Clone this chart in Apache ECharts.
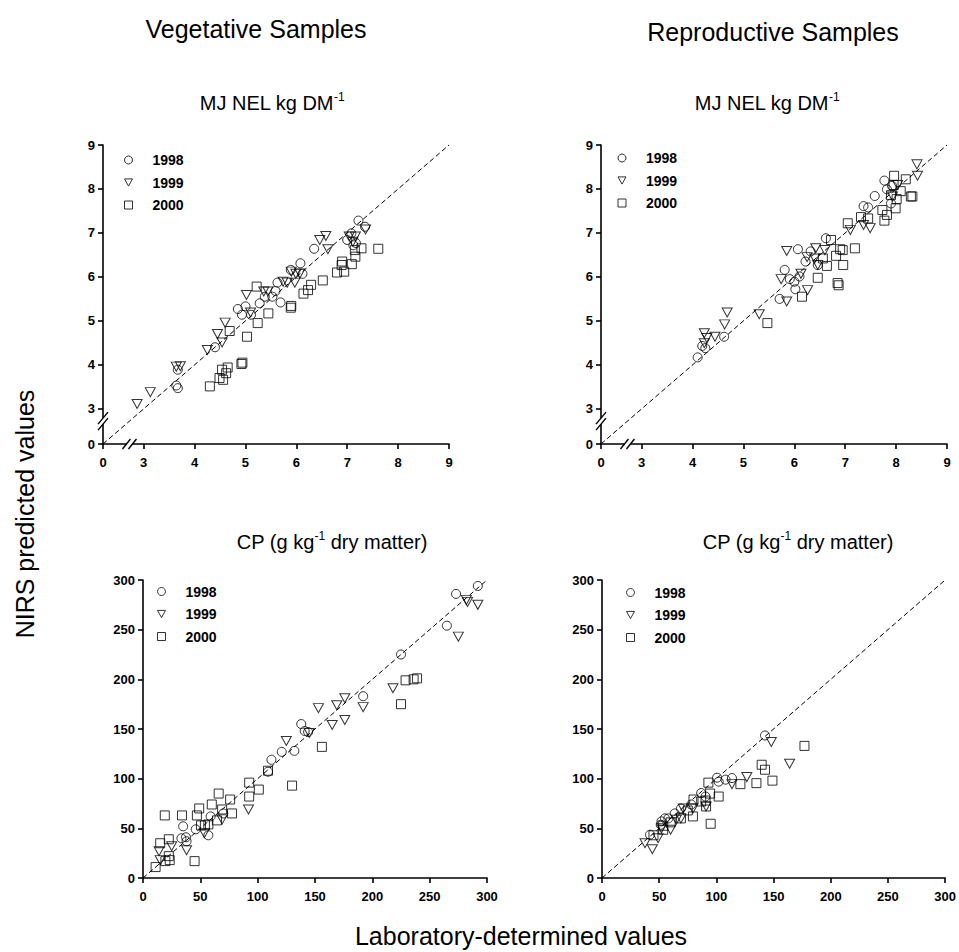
<!DOCTYPE html>
<html>
<head>
<meta charset="utf-8">
<script src="https://cdn.jsdelivr.net/npm/echarts@6/dist/echarts.min.js"></script>
<style>
  html, body { margin: 0; padding: 0; background: #fff; }
  #chart { width: 959px; height: 952px; }
</style>
</head>
<body>
<div id="chart"></div>
<script>
// ---------------- DATA ----------------
const years = ['1998', '1999', '2000'];

// NEL axes (broken axis: "0" then 3..9)
const nelAxisMin = 2.2;       // value position where the "0" label sits (after the break)
const nelAxisMax = 9;
const nelBreak = 2.72;        // where the // marks are drawn
const nelTicks = [3, 4, 5, 6, 7, 8, 9];
const cpTicks = [0, 50, 100, 150, 200, 250, 300];

// Vegetative, MJ NEL kg DM-1  [lab, NIRS]
const vegNEL1998 = [[7.22,7.28],[7.35,7.14],[7.00,6.84],[7.08,6.99],[7.17,6.77],[7.12,6.72],[6.35,6.64],[6.08,6.31],[6.12,6.07],[5.89,6.16],[5.69,5.42],[5.59,5.68],[5.53,5.55],[5.38,5.55],[5.28,5.40],[5.63,5.87],[5.00,5.33],[4.93,5.14],[4.85,5.27],[5.11,5.14],[4.40,4.40],[3.67,3.89],[3.64,3.53],[3.67,3.47]];
const vegNEL1999 = [[2.87,3.11],[3.13,3.38],[3.64,3.96],[3.72,3.97],[4.25,4.34],[4.45,4.70],[4.54,4.51],[4.60,4.96],[5.02,5.59],[5.10,5.19],[5.36,5.67],[5.44,5.67],[5.74,5.89],[5.82,5.87],[5.97,5.87],[5.99,6.07],[6.07,6.08],[5.90,6.12],[6.46,6.84],[6.58,6.93],[6.62,6.63],[7.04,6.92],[7.16,6.92],[7.36,7.08],[7.11,6.80]];
const vegNEL2000 = [[4.30,3.51],[4.49,3.70],[4.56,3.66],[4.54,3.89],[4.65,3.94],[4.62,3.81],[4.92,4.02],[4.94,4.05],[5.03,4.64],[4.69,4.77],[5.24,4.95],[5.45,5.17],[5.22,5.78],[5.89,5.30],[5.90,5.34],[6.14,5.62],[6.23,5.70],[6.29,5.82],[6.52,5.92],[6.80,6.10],[6.94,6.12],[6.90,6.35],[6.89,6.27],[7.09,6.29],[7.16,6.46],[7.15,6.61],[7.28,6.65],[7.61,6.64]];

// Reproductive, MJ NEL kg DM-1
const repNEL1998 = [[4.10,4.17],[4.19,4.43],[4.25,4.38],[4.62,4.64],[5.71,5.50],[5.81,6.16],[5.91,5.95],[6.02,5.72],[6.00,5.89],[6.10,6.01],[6.07,6.63],[6.22,6.35],[6.32,6.58],[6.46,6.27],[6.62,6.88],[7.36,7.61],[7.45,7.58],[7.58,7.84],[7.77,8.19],[7.82,7.99],[7.90,7.67],[7.92,8.07]];
const repNEL1999 = [[4.23,4.72],[4.23,4.49],[4.28,4.61],[4.44,4.64],[4.63,4.92],[4.68,5.19],[5.31,5.15],[5.74,5.95],[5.85,6.59],[5.85,5.44],[6.13,6.07],[6.26,5.70],[6.25,6.45],[6.42,6.65],[6.40,6.42],[6.46,6.27],[6.60,6.61],[7.10,7.07],[7.36,7.18],[7.49,7.11],[8.41,8.56],[8.42,8.30],[7.93,7.83],[8.03,8.09]];
const repNEL2000 = [[5.47,4.95],[6.15,5.55],[6.46,5.98],[6.64,6.25],[6.56,6.42],[6.72,6.84],[6.82,6.48],[6.85,5.86],[6.87,5.81],[6.90,6.63],[6.95,6.61],[6.96,6.27],[7.19,6.65],[7.05,7.22],[7.31,7.36],[7.45,7.33],[7.73,7.52],[7.77,7.28],[7.82,7.41],[7.96,8.30],[7.95,8.09],[7.99,7.56],[8.01,7.77],[8.09,7.95],[8.19,8.22],[8.29,7.83],[8.32,7.83],[7.90,7.86]];

// Vegetative, CP (g kg-1 dry matter)
const vegCP1998 = [[292,294],[273,286],[265,254],[225,225],[192,183],[138,155],[141,148],[144,147],[132,128],[121,127],[112,119],[109,107],[35,52],[33.5,40],[37.5,41],[38,37],[46,49],[57,43],[59,62],[70,65]];
const vegCP1999 = [[292,275],[283,278],[282,280],[275,243],[218,191],[192,172],[176,181],[169,174],[176,159],[165,154],[153,171],[125,138],[145,146],[92,69],[38,28],[25,32],[14,27],[15,18],[69,59],[53.5,45]];
const vegCP2000 = [[11,11],[15,35],[19,63],[19.5,17],[22.5,39],[22.5,22],[23.3,18],[34,63],[45,17],[47,63],[49,70],[50.6,53],[54,53],[57,54],[60,74],[64.5,58],[66,85],[69,69],[76,79],[77.6,65],[92.6,96],[92.6,82],[101,89],[109,108],[130,93],[156,132],[225,175],[229,199],[236,200],[239,201]];

// Reproductive, CP (g kg-1 dry matter)
const repCP1998 = [[142.5,143.5],[100.6,101],[102,97],[108,99],[113.6,100.6],[86.7,85.5],[90.5,82],[78,74],[69,70],[63.6,65],[58,60],[52,57],[51.4,53.6],[42,43.6],[55,60]];
const repCP1999 = [[148,137],[164,115],[126.6,101.6],[113.6,94.5],[37.6,35],[44,29],[49,40],[60,48.6],[69,60],[71,70],[79.5,70],[91,72],[52,50],[65,58.7]];
const repCP2000 = [[177,133],[139.6,114],[142.5,109],[149,98],[135,95.5],[121,94.5],[93,96],[94.5,85],[102,82],[90.5,78],[80,79],[95,54.6],[79.5,62],[75,68],[69,60],[60,56],[53.5,52.6],[45,43],[53.5,48.6],[86.7,77],[91,72]];

// ---------------- CHART ----------------
const FONT = '"Liberation Sans", Arial, Helvetica, sans-serif';
const chart = echarts.init(document.getElementById('chart'), null, { renderer: 'svg' });

const panels = [
  { grid: { left: 103, top: 145, width: 346, height: 299 }, kind: 'nel', sets: [vegNEL1998, vegNEL1999, vegNEL2000], legend: [119, 148] },
  { grid: { left: 601, top: 145, width: 346, height: 299 }, kind: 'nel', sets: [repNEL1998, repNEL1999, repNEL2000], legend: [612.5, 146] },
  { grid: { left: 143, top: 580, width: 344, height: 298 }, kind: 'cp', sets: [vegCP1998, vegCP1999, vegCP2000], legend: [152, 579.5] },
  { grid: { left: 602, top: 580, width: 344, height: 298 }, kind: 'cp', sets: [repCP1998, repCP1999, repCP2000], legend: [621, 580.5] }
];

const TRI_DOWN = 'path://M0,0L10,0L5,9Z';
const symbols = [
  { symbol: 'circle', symbolSize: 9 },
  { symbol: TRI_DOWN, symbolSize: [10, 9] },
  { symbol: 'rect', symbolSize: 9 }
];
const legendIcons = ['circle', TRI_DOWN, 'rect'];

const axisLineStyle = { color: '#000', width: 1.6 };
const labelStyle = { color: '#000', fontWeight: 'bold', fontSize: 13, fontFamily: FONT };

function makeAxis(kind, gi, dim) {
  const base = {
    type: 'value', gridIndex: gi,
    axisLine: { show: true, onZero: false, lineStyle: axisLineStyle },
    splitLine: { show: false }
  };
  const margin = dim === 'x' ? 12 : 8;
  if (kind === 'nel') {
    const vals = [nelAxisMin].concat(nelTicks);
    return Object.assign(base, {
      min: nelAxisMin, max: nelAxisMax,
      axisTick: { show: true, length: 5, customValues: vals, lineStyle: axisLineStyle },
      axisLabel: Object.assign({ customValues: vals, margin: margin,
        formatter: v => (v < 2.5 ? '0' : String(Math.round(v))) }, labelStyle)
    });
  }
  return Object.assign(base, {
    min: cpTicks[0], max: cpTicks[cpTicks.length - 1], interval: 50,
    axisTick: { show: true, length: 5, lineStyle: axisLineStyle },
    axisLabel: Object.assign({ margin: margin, showMinLabel: true, showMaxLabel: true }, labelStyle)
  });
}

const grids = [], xAxes = [], yAxes = [], series = [], legends = [];
panels.forEach((p, gi) => {
  grids.push(Object.assign({ containLabel: false }, p.grid));
  xAxes.push(makeAxis(p.kind, gi, 'x'));
  yAxes.push(makeAxis(p.kind, gi, 'y'));
  const lo = p.kind === 'nel' ? nelAxisMin : 0;
  const hi = p.kind === 'nel' ? nelAxisMax : 300;
  series.push({
    type: 'line', xAxisIndex: gi, yAxisIndex: gi, silent: true, symbol: 'none',
    data: [[lo, lo], [hi, hi]],
    lineStyle: { color: '#000', width: 1, type: [5, 3] }, z: 1
  });
  p.sets.forEach((d, k) => {
    series.push(Object.assign({
      type: 'scatter', name: years[k], xAxisIndex: gi, yAxisIndex: gi,
      data: d,
      itemStyle: { color: 'rgba(255,255,255,0)', borderColor: '#000', borderWidth: 1 },
      emphasis: { disabled: true }, z: 3
    }, symbols[k]));
  });
  legends.push({
    orient: 'vertical', left: p.legend[0], top: p.legend[1],
    itemWidth: 8, itemHeight: 8, itemGap: 8.5, selectedMode: false,
    data: years.map((y, k) => ({ name: y, icon: legendIcons[k] })),
    itemStyle: { color: 'rgba(255,255,255,0)', borderColor: '#000', borderWidth: 1 },
    textStyle: { color: '#000', fontWeight: 'bold', fontSize: 14, lineHeight: 14, fontFamily: FONT, padding: [0, 0, 0, 15] }
  });
});

function txt(x, y, text, size, rot, rich) {
  const s = { text: text, x: 0, y: 0, fill: '#000', font: size + 'px ' + FONT, align: 'center', verticalAlign: 'middle' };
  if (rich) s.rich = rich;
  return { type: 'text', x: x, y: y, rotation: rot || 0, style: s, z: 50 };
}
const supRich = {
  a: { fontSize: 20, fontFamily: FONT, lineHeight: 24, color: '#000' },
  s: { fontSize: 12, fontFamily: FONT, lineHeight: 12, verticalAlign: 'top', color: '#000' }
};

const texts = [
  txt(256, 29, 'Vegetative Samples', 25),
  txt(773, 32, 'Reproductive Samples', 25),
  txt(272, 103, '{a|MJ NEL kg DM}{s|-1}', 20, 0, supRich),
  txt(767, 103, '{a|MJ NEL kg DM}{s|-1}', 20, 0, supRich),
  txt(332, 542, '{a|CP (g kg}{s|-1}{a| dry matter)}', 20, 0, supRich),
  txt(798, 542, '{a|CP (g kg}{s|-1}{a| dry matter)}', 20, 0, supRich),
  txt(25, 514, 'NIRS predicted values', 25, Math.PI / 2),
  txt(521, 936, 'Laboratory-determined values', 25)
];

chart.setOption({
  animation: false,
  backgroundColor: '#fff',
  grid: grids, xAxis: xAxes, yAxis: yAxes, series: series, legend: legends,
  graphic: texts
});

// axis-break marks (//) on the two NEL panels
const marks = [];
[0, 1].forEach(gi => {
  const py = chart.convertToPixel({ gridIndex: gi }, [nelAxisMin, nelBreak]);
  const px = chart.convertToPixel({ gridIndex: gi }, [nelBreak, nelAxisMin]);
  const ls = { stroke: '#000', lineWidth: 1.4 };
  // y-axis break
  marks.push({ type: 'rect', shape: { x: py[0] - 2, y: py[1] - 3, width: 4, height: 6 }, style: { fill: '#fff' }, z: 60 });
  [-3, 3].forEach(d => marks.push({ type: 'line', z: 61, style: ls,
    shape: { x1: py[0] - 5, y1: py[1] + d + 6, x2: py[0] + 5, y2: py[1] + d - 6 } }));
  // x-axis break
  marks.push({ type: 'rect', shape: { x: px[0] - 3, y: px[1] - 2, width: 6, height: 4 }, style: { fill: '#fff' }, z: 60 });
  [-3, 3].forEach(d => marks.push({ type: 'line', z: 61, style: ls,
    shape: { x1: px[0] + d - 4, y1: px[1] + 5, x2: px[0] + d + 4, y2: px[1] - 5 } }));
});
chart.setOption({ graphic: texts.concat(marks) });
</script>
</body>
</html>
